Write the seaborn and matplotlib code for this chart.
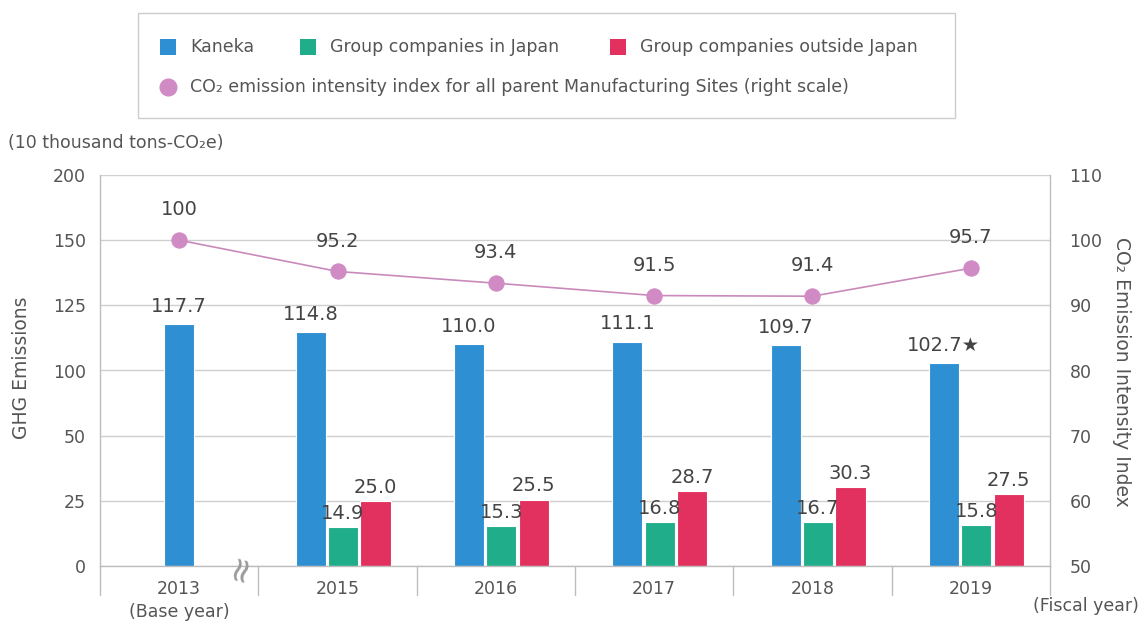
import numpy as np
import matplotlib
matplotlib.use("Agg")
import matplotlib.pyplot as plt
import matplotlib.transforms as mtransforms
from matplotlib.patches import Rectangle
import seaborn as sns

# ---- data -------------------------------------------------------------
years = ["2013\n(Base year)", "2015", "2016", "2017", "2018", "2019"]
kaneka = [117.7, 114.8, 110.0, 111.1, 109.7, 102.7]
group_japan = [None, 14.9, 15.3, 16.8, 16.7, 15.8]
group_outside = [None, 25.0, 25.5, 28.7, 30.3, 27.5]
intensity = [100, 95.2, 93.4, 91.5, 91.4, 95.7]
kaneka_labels = ["117.7", "114.8", "110.0", "111.1", "109.7", "102.7\u2605"]
left_ticks = [0, 25, 50, 100, 125, 150, 200]
right_ticks = [50, 60, 70, 80, 90, 100, 110]

# ---- style ------------------------------------------------------------
sns.set_theme(style="white")
plt.rcParams["font.family"] = ["DejaVu Sans"]

C_KANEKA = "#2f8fd3"
C_JAPAN = "#1fad8a"
C_OUTSIDE = "#e2315e"
C_LINE = "#c98abb"
C_DOT = "#d08ac4"
C_GRID = "#cfcfcf"
C_TEXT = "#444444"
C_TICK = "#555555"

W, H = 1141, 621
fig = plt.figure(figsize=(W / 100, H / 100), dpi=100)
fig.patch.set_facecolor("white")


def fx(px):
    return px / W


def fy(py):
    return 1 - py / H


ax = fig.add_axes([fx(100), fy(566), fx(1050) - fx(100), fy(175) - fy(566)])

# left axis: piecewise scale with evenly spaced ticks
idx = np.arange(len(left_ticks), dtype=float)


def fwd(v):
    return np.interp(v, left_ticks, idx)


def inv(p):
    return np.interp(p, idx, left_ticks)


ax.set_yscale("function", functions=(fwd, inv))
ax.set_ylim(0, 200)
ax.set_yticks(left_ticks)
ax.set_xlim(-0.5, len(years) - 0.5)
ax.set_axisbelow(True)
ax.yaxis.grid(True, color=C_GRID, lw=1)
ax.xaxis.grid(False)

x = np.arange(len(years))
width = 0.19
off_k, off_j, off_o = -0.17, 0.035, 0.24

kx = np.array([0.0 if g is None else off_k for g in group_japan]) + x
ax.bar(kx, kaneka, width=width, color=C_KANEKA, edgecolor="white", lw=0.8, zorder=2)
for xi, v, lab in zip(kx, kaneka, kaneka_labels):
    ax.annotate(lab, (xi, v), xytext=(0, 6), textcoords="offset points",
                ha="center", va="bottom", fontsize=14, color=C_TEXT, zorder=5)

jx = [xi + off_j for xi, v in zip(x, group_japan) if v is not None]
jv = [v for v in group_japan if v is not None]
ox = [xi + off_o for xi, v in zip(x, group_outside) if v is not None]
ov = [v for v in group_outside if v is not None]
ax.bar(jx, jv, width=width, color=C_JAPAN, edgecolor="white", lw=0.8, zorder=2)
ax.bar(ox, ov, width=width, color=C_OUTSIDE, edgecolor="white", lw=0.8, zorder=2)
for xi, v in zip(jx, jv):
    ax.annotate(f"{v:.1f}", (xi, v), xytext=(0, 3), textcoords="offset points",
                ha="center", va="bottom", fontsize=14, color=C_TEXT, zorder=5)
for xi, v in zip(ox, ov):
    ax.annotate(f"{v:.1f}", (xi, v), xytext=(0, 3), textcoords="offset points",
                ha="center", va="bottom", fontsize=14, color=C_TEXT, zorder=5)

ax.set_xticks(x)
ax.set_xticklabels(years)
for t in ax.get_xticklabels():
    t.set_linespacing(1.35)
ax.tick_params(axis="x", length=0, pad=10, labelsize=12.5, labelcolor=C_TICK)
ax.tick_params(axis="y", length=0, pad=10, labelsize=12.5, labelcolor=C_TICK)

ax.spines["top"].set_visible(False)
for side in ["left", "right", "bottom"]:
    ax.spines[side].set_color("#bdbdbd")
    ax.spines[side].set_linewidth(1)

# category separators below the baseline
blend = mtransforms.blended_transform_factory(ax.transData, ax.transAxes)
for b in np.arange(-0.5, len(years), 1.0):
    ax.plot([b, b], [0, -0.075], transform=blend, clip_on=False,
            color="#bdbdbd", lw=1)

# axis break mark between 2013 and 2015
ax.text(0.39, -0.005, "\u2248", transform=blend, rotation=75, ha="center",
        va="center", fontsize=25, color="#9a9a9a", zorder=6)

# right axis: intensity index
ax2 = ax.twinx()
ax2.set_ylim(50, 110)
ax2.set_yticks(right_ticks)
ax2.tick_params(axis="y", length=0, pad=14, labelsize=12.5, labelcolor=C_TICK)
for s in ax2.spines.values():
    s.set_visible(False)
ax2.grid(False)

sns.lineplot(x=x, y=intensity, ax=ax2, color=C_LINE, lw=1.2, marker="o",
             markersize=11, markerfacecolor=C_DOT, markeredgecolor=C_DOT,
             legend=False, zorder=4)
for xi, v in zip(x, intensity):
    ax2.annotate(f"{v:g}", (xi, v), xytext=(0, 15), textcoords="offset points",
                 ha="center", va="bottom", fontsize=14, color=C_TEXT)

# axis titles and units
fig.text(fx(22), fy(368), "GHG Emissions", rotation=90, ha="center",
         va="center", fontsize=13.5, color=C_TICK)
fig.text(fx(1121), fy(372), "CO\u2082 Emission Intensity Index", rotation=270,
         ha="center", va="center", fontsize=13.5, color=C_TICK)
fig.text(fx(8), fy(143), "(10 thousand tons-CO\u2082e)", ha="left", va="center",
         fontsize=12.5, color=C_TICK)
fig.text(fx(1139), fy(606), "(Fiscal year)", ha="right", va="center",
         fontsize=12.5, color=C_TICK)

# legend box
fig.patches.append(Rectangle((fx(138), fy(118)), fx(955) - fx(138), fy(13) - fy(118),
                             transform=fig.transFigure, facecolor="white",
                             edgecolor="#cccccc", lw=1))
legend_items = [
    (160, 47, C_KANEKA, "Kaneka"),
    (300, 47, C_JAPAN, "Group companies in Japan"),
    (610, 47, C_OUTSIDE, "Group companies outside Japan"),
]
for px, py, col, label in legend_items:
    fig.patches.append(Rectangle((fx(px), fy(py + 8)), fx(16), 16 / H,
                                 transform=fig.transFigure, facecolor=col,
                                 edgecolor="none"))
    fig.text(fx(px + 30), fy(py), label, ha="left", va="center",
             fontsize=12.5, color=C_TICK)
fig.lines.append(plt.Line2D([fx(168)], [fy(87)], transform=fig.transFigure,
                            marker="o", markersize=12, color=C_DOT, lw=0))
fig.text(fx(190), fy(87),
         "CO\u2082 emission intensity index for all parent Manufacturing Sites (right scale)",
         ha="left", va="center", fontsize=12.5, color=C_TICK)

fig.savefig("out.png", dpi=100, facecolor="white")
